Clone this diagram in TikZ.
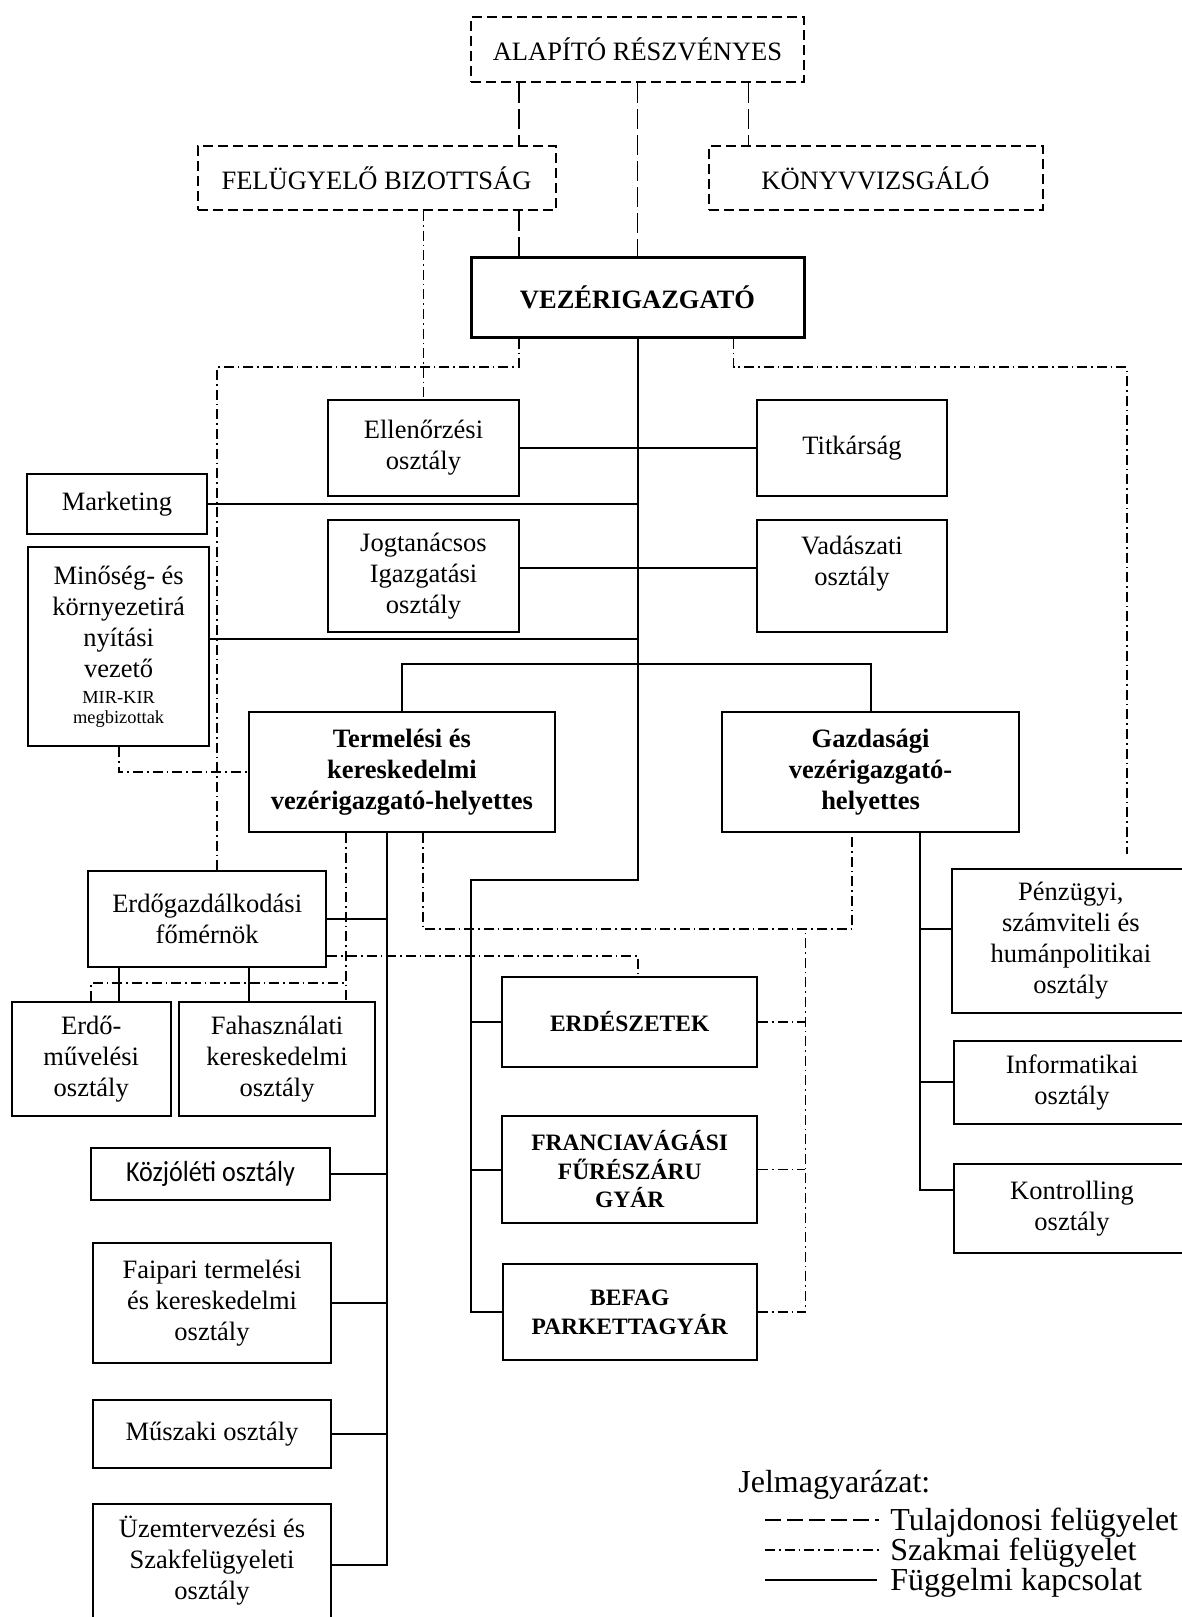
\documentclass[tikz,border=0pt]{standalone}
\usepackage{fontspec}
\setmainfont{Liberation Serif}
\newfontfamily\calib[FakeStretch=0.9]{Carlito}
\usetikzlibrary{calc}
\newcommand\fmain{\fontsize{13.25}{15.5}\selectfont}
\newcommand\funit{\fontsize{11.75}{14.25}\selectfont}
\newcommand\ftiny{\fontsize{9.2}{10}\selectfont}
\newcommand\fcal{\calib\fontsize{14.5}{17}\selectfont}
\newcommand\flegend{\fontsize{16}{15}\selectfont}
\tikzset{
  box/.style={draw, rectangle, line width=1pt, align=center, inner sep=0pt, font=\fmain},
  ownbox/.style={box, line width=1pt, dash pattern=on 5pt off 2.5pt},
  chief/.style={box, line width=1.5pt, font=\fmain\bfseries},
  boldbox/.style={box, font=\fmain\bfseries},
  unitbox/.style={box, font=\funit\bfseries},
  sub/.style={line width=1pt},
  own/.style={line width=0.9pt, dash pattern=on 10pt off 3pt},
  prof/.style={line width=0.9pt, dash pattern=on 5pt off 2pt on 0.8pt off 2pt},
  legtext/.style={anchor=base west, inner sep=0pt, font=\flegend},
}
\begin{document}
\begin{tikzpicture}[x=0.5pt,y=-0.5pt]
\path[use as bounding box] (0,0) rectangle (1182,1617);
\clip (0,0) rectangle (1182,1617);

% boxes
\node[ownbox, minimum width=166.5pt, minimum height=32.5pt] (alap) at (637.5,49.5) {ALAPÍTÓ RÉSZVÉNYES};
\node[ownbox, minimum width=179pt, minimum height=32pt] (felu) at (376.5,178) {FELÜGYELŐ BIZOTTSÁG};
\node[ownbox, minimum width=167pt, minimum height=32pt] (konyv) at (875.5,178) {KÖNYVVIZSGÁLÓ};
\node[chief, minimum width=166.5pt, minimum height=40pt] (vezer) at (637.5,297) {VEZÉRIGAZGATÓ};
\node[box, minimum width=95.5pt, minimum height=48pt] (ellen) at (423.5,448) {Ellenőrzési\\osztály};
\node[box, minimum width=95.4pt, minimum height=48pt] (titk) at (852,448) {Titkárság};
\node[box, minimum width=90pt, minimum height=30pt] (mark) at (117,504) {Marketing};
\node[box, minimum width=95.5pt, minimum height=56pt] (jog) at (423.5,576) {Jogtanácsos\\Igazgatási\\osztály};
\node[box, minimum width=95.4pt, minimum height=56pt] (vad) at (852,576) {Vadászati\\osztály\\\mbox{}};
\node[box, minimum width=90.65pt, minimum height=99.65pt] (mino) at (118.65,646.65) {Minőség- és\\környezetirá\\nyítási\\vezető\\[-2.5pt]\ftiny MIR-KIR\\[-5.5pt]\ftiny megbizottak};
\node[boldbox, minimum width=153.1pt, minimum height=60.15pt] (term) at (401.9,772.15) {Termelési és\\kereskedelmi\\vezérigazgató-helyettes};
\node[boldbox, minimum width=148.15pt, minimum height=60.15pt] (gazd) at (870.55,772.15) {Gazdasági\\vezérigazgató-\\helyettes};
\node[box, minimum width=119.2pt, minimum height=48pt] (erdg) at (207.2,918.7) {Erdőgazdálkodási\\főmérnök};
\node[box, minimum width=79.75pt, minimum height=57pt] (erdm) at (91.25,1058.7) {Erdő-\\művelési\\osztály};
\node[box, minimum width=98.35pt, minimum height=57pt] (faha) at (277.05,1058.7) {Fahasználati\\kereskedelmi\\osztály};
\node[box, font=\fcal, minimum width=119.5pt, minimum height=26.15pt] (kozj) at (210.5,1173.85) {Közjóléti osztály};
\node[box, minimum width=119.4pt, minimum height=60pt] (faip) at (212,1302.7) {Faipari termelési\\és kereskedelmi\\osztály};
\node[box, minimum width=119.4pt, minimum height=33.7pt] (musz) at (212,1434) {Műszaki osztály};
\node[box, minimum width=119.4pt, minimum height=57.15pt] (uzem) at (212,1560.85) {Üzemtervezési és\\Szakfelügyeleti\\osztály};
\node[unitbox, minimum width=127.3pt, minimum height=45pt] (erdesz) at (629.7,1021.7) {ERDÉSZETEK};
\node[unitbox, minimum width=127.3pt, minimum height=53.8pt] (franc) at (629.7,1169.5) {FRANCIAVÁGÁSI\\FŰRÉSZÁRU\\GYÁR};
\node[unitbox, minimum width=127.25pt, minimum height=48pt] (befag) at (629.75,1312.3) {BEFAG\\PARKETTAGYÁR};
\node[box, minimum width=119.15pt, minimum height=71.7pt] (penz) at (1070.85,941) {Pénzügyi,\\számviteli és\\humánpolitikai\\osztály};
\node[box, minimum width=118pt, minimum height=41.65pt] (info) at (1072,1082.35) {Informatikai\\osztály};
\node[box, minimum width=118pt, minimum height=44.5pt] (kont) at (1072,1208.8) {Kontrolling\\osztály};

% solid: subordination
\coordinate (jv) at (470.7,880);
\draw[sub] (vezer.south) |- (jv) -- (jv |- befag.west) -- (befag.west);
\draw[sub] (jv |- erdesz.west) -- (erdesz.west);
\draw[sub] (jv |- franc.west) -- (franc.west);
\draw[sub] (ellen.east) -- (titk.west);
\draw[sub] (mark.east) -- (mark.east -| vezer.south);
\draw[sub] ([yshift=4pt]jog.east) -- ([yshift=4pt]vad.west);
\draw[sub] ([yshift=4pt]mino.east) -- ([yshift=4pt]mino.east -| vezer.south);
\draw[sub] (term.north) -- (term.north |- 0,664) -- (gazd.north |- 0,664) -- (gazd.north);
\coordinate (tv) at ([xshift=-7.7pt]term.south);
\draw[sub] (tv) |- ([yshift=-2pt]uzem.east);
\draw[sub] (erdg.east) -- (erdg.east -| tv);
\draw[sub] (kozj.east) -- (kozj.east -| tv);
\draw[sub] (faip.east) -- (faip.east -| tv);
\draw[sub] (musz.east) -- (musz.east -| tv);
\draw[sub] ([xshift=13.9pt]erdm.north) -- ([xshift=13.9pt]erdm.north |- erdg.south);
\draw[sub] ([xshift=-14.1pt]faha.north) -- ([xshift=-14.1pt]faha.north |- erdg.south);
\coordinate (gv) at ([xshift=24.9pt]gazd.south);
\draw[sub] (gv) |- ([yshift=9.4pt]kont.west);
\draw[sub] (gv |- info.west) -- (info.west);
\draw[sub] ([yshift=5.85pt]penz.west -| gv) -- ([yshift=5.85pt]penz.west);

% dashed: ownership supervision
\draw[own] ([xshift=-59.45pt]alap.south) -- ([xshift=-59.45pt]alap.south |- felu.north);
\draw[own] (alap.south) -- (vezer.north);
\draw[own] ([xshift=55.5pt]alap.south) -- ([xshift=55.5pt]alap.south |- konyv.north);
\draw[own] ([xshift=71.05pt]felu.south) -- ([xshift=71.05pt]felu.south |- vezer.north);

% dash-dot: professional supervision
\draw[prof] (ellen.north |- felu.south) -- (ellen.north);
\draw[prof] ([xshift=-59.45pt]vezer.south) -- ++(0,-14.35pt) -| ([xshift=4.9pt]erdg.north);
\coordinate (pzend) at ([xshift=28.1pt,yshift=7pt]penz.north);
\draw[prof] ([xshift=48pt]vezer.south) -- ++(0,-14.35pt) -| (pzend);
\draw[prof] (mino.south) |- (term.west);
\draw[prof] ([xshift=-28.15pt]term.south) -- ([xshift=-28.15pt]term.south |- faha.north);
\draw[prof] (erdm.north) -- (erdm.north |- 0,982.7) -- ([xshift=-28.15pt]term.south |- 0,982.7);
\draw[prof] ([xshift=10.55pt]term.south) -- ++(0,-48pt) -| ([xshift=-9.1pt]gazd.south);
\draw[prof] (befag.east) -- ++(23.7pt,0) -- ([xshift=23.7pt]befag.east |- 0,928.3);
\draw[prof] (erdesz.east) -- ++(23.7pt,0);
\draw[prof] (franc.east) -- ++(23.7pt,0);
\draw[prof] ([yshift=-18.5pt]erdg.east) -| ([xshift=4.25pt]erdesz.north);

% legend
\node[legtext] (leg) at (738,1492) {Jelmagyarázat:};
\coordinate (l1a) at (765,1520); \coordinate (l1b) at (879,1520);
\coordinate (l2a) at (765,1550); \coordinate (l2b) at (879,1550);
\coordinate (l3a) at (765,1580); \coordinate (l3b) at (877,1580);
\draw[own, dash pattern=on 8pt off 3pt] (l1a) -- (l1b);
\draw[prof] (l2a) -- (l2b);
\draw[sub] (l3a) -- (l3b);
\node[legtext] (leg1) at (890,1530) {Tulajdonosi felügyelet};
\node[legtext] (leg2) at (890,1560) {Szakmai felügyelet};
\node[legtext] (leg3) at (890,1590) {Függelmi kapcsolat};
\end{tikzpicture}
\end{document}
